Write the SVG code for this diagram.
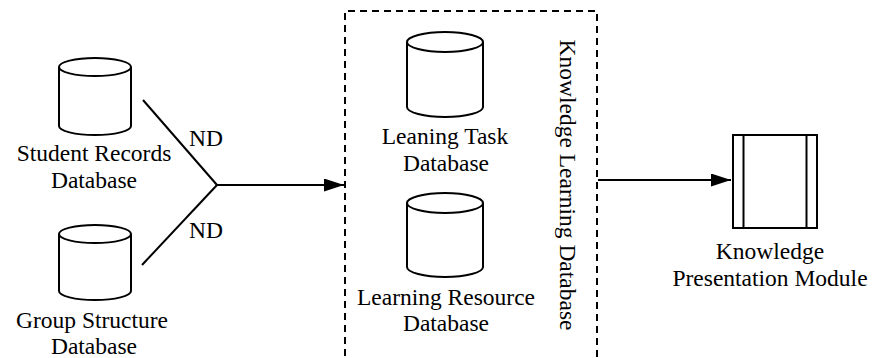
<svg xmlns="http://www.w3.org/2000/svg" width="874" height="358" viewBox="0 0 874 358">
  <style>
    .shape { fill: #ffffff; stroke: #000000; stroke-width: 2; }
    .edge { fill: none; stroke: #000000; stroke-width: 2; }
    .frame { fill: none; stroke: #000000; stroke-width: 2; stroke-dasharray: 7 5; }
    .label { font-family: "Liberation Serif", "Times New Roman", serif; font-size: 23.5px; fill: #000000; text-anchor: middle; }
  </style>
  <defs>
    <marker id="arrow" markerUnits="userSpaceOnUse" markerWidth="20" markerHeight="13" refX="20" refY="6.5" orient="auto">
      <path d="M0,0 L20,6.5 L0,13 Z" fill="#000000"/>
    </marker>
  </defs>

  <rect width="874" height="358" fill="#ffffff"/>

  <!-- dashed container for the knowledge learning database -->
  <g id="knowledge-learning-database">
    <path class="frame" d="M345,368 L345,11 L597,11 L597,368"/>
    <text class="label" transform="translate(560,185) rotate(90)">Knowledge Learning Database</text>
  </g>

  <g id="student-records-database">
    <path class="shape" d="M59,67 L59,126 A36,9 0 0,0 131,126 L131,67"/>
    <ellipse class="shape" cx="95" cy="67" rx="36" ry="9"/>
    <text class="label" x="94" y="161">Student Records</text>
    <text class="label" x="94" y="188">Database</text>
  </g>

  <g id="group-structure-database">
    <path class="shape" d="M59,234 L59,291 A36,9 0 0,0 131,291 L131,234"/>
    <ellipse class="shape" cx="95" cy="234" rx="36" ry="9"/>
    <text class="label" x="92" y="328">Group Structure</text>
    <text class="label" x="94" y="354">Database</text>
  </g>

  <g id="learning-task-database">
    <path class="shape" d="M407,42 L407,107 A38,10 0 0,0 483,107 L483,42"/>
    <ellipse class="shape" cx="445" cy="42" rx="38" ry="10"/>
    <text class="label" x="445" y="144">Leaning Task</text>
    <text class="label" x="446" y="171">Database</text>
  </g>

  <g id="learning-resource-database">
    <path class="shape" d="M407,203 L407,267 A38,10 0 0,0 483,267 L483,203"/>
    <ellipse class="shape" cx="445" cy="203" rx="38" ry="10"/>
    <text class="label" x="446" y="305">Learning Resource</text>
    <text class="label" x="446" y="331">Database</text>
  </g>

  <g id="knowledge-presentation-module">
    <rect class="shape" x="733" y="135" width="84" height="93"/>
    <line class="edge" x1="743.5" y1="135" x2="743.5" y2="228"/>
    <line class="edge" x1="806.5" y1="135" x2="806.5" y2="228"/>
    <text class="label" x="770" y="259">Knowledge</text>
    <text class="label" x="770" y="286">Presentation Module</text>
  </g>

  <g id="connectors">
    <line class="edge" x1="143" y1="100" x2="217" y2="185"/>
    <line class="edge" x1="142" y1="265" x2="217" y2="185"/>
    <line class="edge" x1="216" y1="185" x2="344" y2="185" marker-end="url(#arrow)"/>
    <line class="edge" x1="598" y1="180" x2="731" y2="180" marker-end="url(#arrow)"/>
    <text class="label" x="206" y="146">ND</text>
    <text class="label" x="206" y="238">ND</text>
  </g>
</svg>
